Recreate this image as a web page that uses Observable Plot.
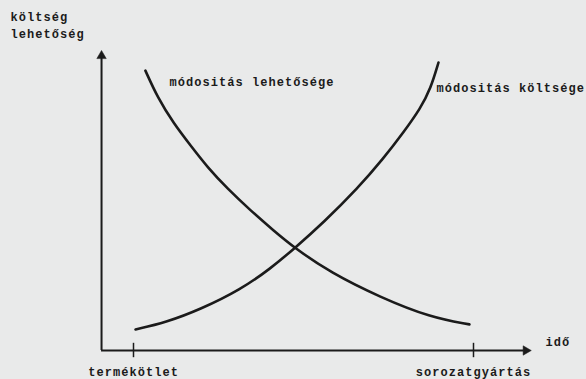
<!DOCTYPE html>
<html>
<head>
<meta charset="utf-8">
<script src="https://cdn.jsdelivr.net/npm/d3@7"></script>
<script src="https://cdn.jsdelivr.net/npm/@observablehq/plot@0.6"></script>
<style>
  html, body { margin: 0; padding: 0; background: #e9eaea; }
  #chart { width: 586px; height: 379px; overflow: hidden; }
</style>
</head>
<body>
<div id="chart"></div>
<script>
// Axis titles and labels
const yTitle = "költség\nlehetőség";
const xTitle = "idő";
const tickValues = [0, 10];
const tickLabels = ["termékötlet", "sorozatgyártás"];

// Curve: módositás lehetősége (decreasing)
const possibilityName = "módositás lehetősége";
const possibilityX = [0.35, 0.71, 1.18, 1.68, 2.18, 2.76, 3.44, 4.12, 4.76, 5.79, 7.26, 8.74, 9.88];
const possibilityY = [9.33, 8.43, 7.57, 6.83, 6.10, 5.40, 4.67, 4.00, 3.40, 2.60, 1.77, 1.10, 0.87];

// Curve: módositás költsége (increasing)
const costName = "módositás költsége";
const costX = [0.06, 0.94, 1.97, 3.15, 4.03, 4.76, 5.59, 6.59, 7.35, 7.94, 8.44, 8.74, 8.97];
const costY = [0.70, 0.93, 1.37, 2.03, 2.73, 3.43, 4.27, 5.40, 6.40, 7.27, 8.07, 8.73, 9.60];

const possibility = possibilityX.map((x, i) => ({x, y: possibilityY[i]}));
const cost = costX.map((x, i) => ({x, y: costY[i]}));
const ticks = tickValues.map((x, i) => ({x, label: tickLabels[i]}));
const curveLabels = [
  {x: 1.06, y: 8.93, text: possibilityName},
  {x: 8.91, y: 8.73, text: costName}
];

const ink = "#1b1b1b";
const xAxisStart = -0.94, xAxisEnd = 11.74;
const yAxisEnd = 10.07;

const chart = Plot.plot({
  width: 586,
  height: 379,
  margin: 0,
  x: {domain: [0, 10], range: [133, 473], axis: null},
  y: {domain: [0, 10], range: [350, 50], axis: null},
  style: {
    background: "#e9eaea",
    fontFamily: "'Liberation Mono', 'DejaVu Sans Mono', monospace",
    fontSize: "12px",
    fontWeight: "bold",
    letterSpacing: "1.05px",
    color: ink
  },
  marks: [
    // axes
    Plot.ruleY([0], {x1: xAxisStart, x2: xAxisEnd - 0.25, stroke: ink, strokeWidth: 2}),
    Plot.ruleX([xAxisStart], {y1: 0, y2: yAxisEnd - 0.3, stroke: ink, strokeWidth: 2}),
    Plot.dot([{x: xAxisEnd - 0.2, y: 0}], {x: "x", y: "y", symbol: "triangle2", r: 4.5, rotate: 90, fill: ink, stroke: ink, strokeWidth: 0.5}),
    Plot.dot([{x: xAxisStart, y: yAxisEnd - 0.25}], {x: "x", y: "y", symbol: "triangle2", r: 4.5, fill: ink, stroke: ink, strokeWidth: 0.5}),
    // ticks
    Plot.ruleX(ticks, {x: "x", y1: -0.24, y2: 0.24, stroke: ink, strokeWidth: 1.5}),
    Plot.text(ticks, {x: "x", y: 0, dy: 22, text: "label", fill: ink}),
    Plot.text([xTitle], {x: xAxisEnd + 0.38, y: 0.27, text: d => d, textAnchor: "start", fill: ink}),
    Plot.text([yTitle], {frameAnchor: "top-left", dx: 10, dy: 8, text: d => d, textAnchor: "start", lineAnchor: "top", lineHeight: 1.42, fill: ink}),
    // curves
    Plot.line(possibility, {x: "x", y: "y", curve: "basis", stroke: ink, strokeWidth: 2.6, strokeLinecap: "round"}),
    Plot.line(cost, {x: "x", y: "y", curve: "basis", stroke: ink, strokeWidth: 2.6, strokeLinecap: "round"}),
    Plot.text(curveLabels, {x: "x", y: "y", text: "text", textAnchor: "start", fill: ink})
  ]
});
document.getElementById("chart").append(chart);
</script>
</body>
</html>
